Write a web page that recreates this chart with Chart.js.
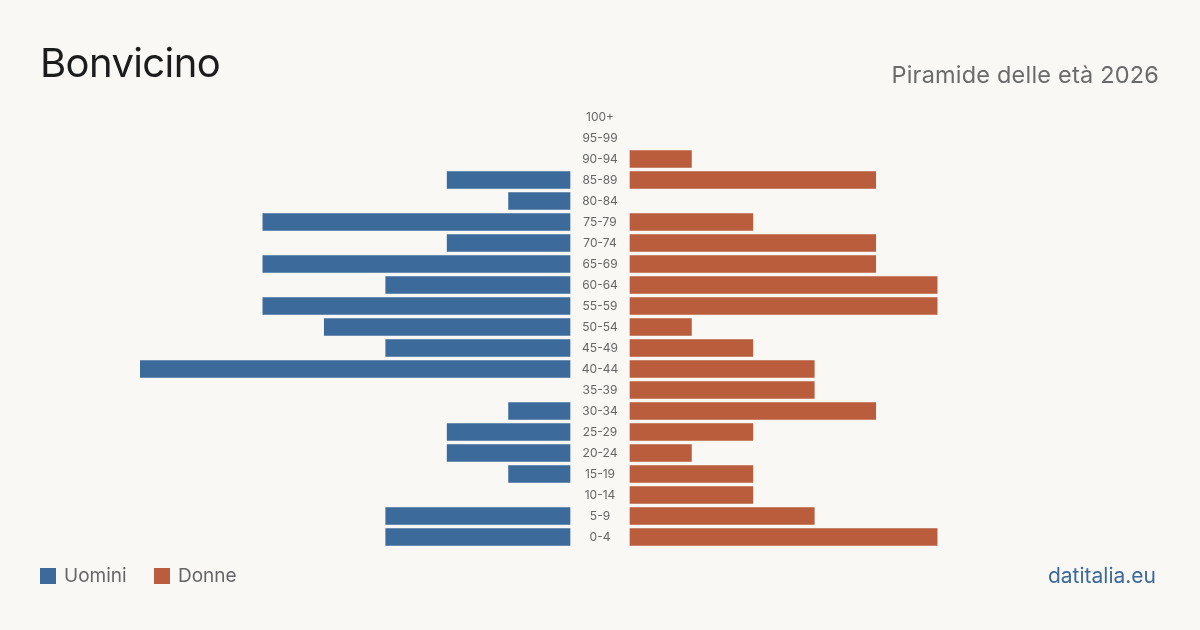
<!DOCTYPE html>
<html>
<head>
<meta charset="utf-8">
<title>Bonvicino</title>
<script src="https://cdn.jsdelivr.net/npm/chart.js"></script>
<style>
  html, body { margin: 0; padding: 0; }
  body { width: 1200px; height: 630px; background: #f9f8f4; position: relative; overflow: hidden; font-family: Inter, "Liberation Sans", sans-serif; }
  #wrap { position: absolute; left: 0; top: 0; width: 1200px; height: 630px; }
  .title { position: absolute; left: 40px; top: 43px; font-size: 40px; color: #1c1c1c; line-height: 1; letter-spacing: -0.6px; }
  .sub { position: absolute; right: 41px; top: 63px; font-size: 23.5px; color: #6b6b6b; line-height: 1; letter-spacing: 0.2px; }
  .legend { position: absolute; left: 40px; top: 566px; font-size: 19px; color: #666; line-height: 20px; }
  .legend span.box { display: inline-block; width: 16px; height: 16px; vertical-align: -2px; margin-right: 8px; }
  .legend span.item { margin-right: 22px; }
  .site { position: absolute; right: 44px; top: 565px; font-size: 21px; color: #3b6a9b; line-height: 1; }
</style>
</head>
<body>
<div id="wrap"><canvas id="myChart" width="1200" height="630"></canvas></div>
<div class="title">Bonvicino</div>
<div class="sub">Piramide delle età 2026</div>
<div class="legend">
  <span class="item"><span class="box" style="background:#3b6a9b"></span>Uomini</span>
  <span class="item"><span class="box" style="background:#b95d3c"></span>Donne</span>
</div>
<div class="site">datitalia.eu</div>

<script>
// fasce d'età, dall'alto in basso
const ages = ['100+', '95-99', '90-94', '85-89', '80-84', '75-79', '70-74', '65-69', '60-64', '55-59',
  '50-54', '45-49', '40-44', '35-39', '30-34', '25-29', '20-24', '15-19', '10-14', '5-9', '0-4'];
const men   = [0, 0, 0, 2, 1, 5, 2, 5, 3, 5, 4, 3, 7, 0, 1, 2, 2, 1, 0, 3, 3];
const women = [0, 0, 1, 4, 0, 2, 4, 4, 5, 5, 1, 2, 3, 3, 4, 2, 1, 2, 2, 3, 5];

const maxVal = Math.max(...men, ...women);
const gap = 30 / (920 - 60) * (2 * maxVal); // half of the label gap, in value units

const blue = '#3b6a9b';
const orange = '#b95d3c';

// draw the age labels in the middle gap
const centerLabels = {
  id: 'centerLabels',
  afterDatasetsDraw(chart) {
    const c = chart.ctx;
    const x = chart.scales.x.getPixelForValue(0);
    const y = chart.scales.y;
    c.save();
    c.font = '12px Inter, sans-serif';
    c.fillStyle = '#666';
    c.textAlign = 'center';
    c.textBaseline = 'middle';
    ages.forEach((a, i) => c.fillText(a, x, y.getPixelForValue(i)));
    c.restore();
  }
};

const myChart = new Chart(document.getElementById('myChart'), {
  type: 'bar',
  data: {
    labels: ages,
    datasets: [
      {
        label: 'Uomini',
        data: men.map(v => v ? [-gap - v, -gap] : null),
        backgroundColor: blue,
        borderWidth: 0,
        barThickness: 17
      },
      {
        label: 'Donne',
        data: women.map(v => v ? [gap, gap + v] : null),
        backgroundColor: orange,
        borderWidth: 0,
        barThickness: 17
      }
    ]
  },
  options: {
    indexAxis: 'y',
    responsive: false,
    animation: false,
    grouped: false,
    layout: { padding: { left: 140, right: 140, top: 106.5, bottom: 82.5 } },
    plugins: { legend: { display: false }, tooltip: { enabled: false } },
    scales: {
      x: { display: false, min: -maxVal - gap, max: maxVal + gap },
      y: { display: false, offset: true }
    }
  },
  plugins: [centerLabels]
});
</script>
</body>
</html>
